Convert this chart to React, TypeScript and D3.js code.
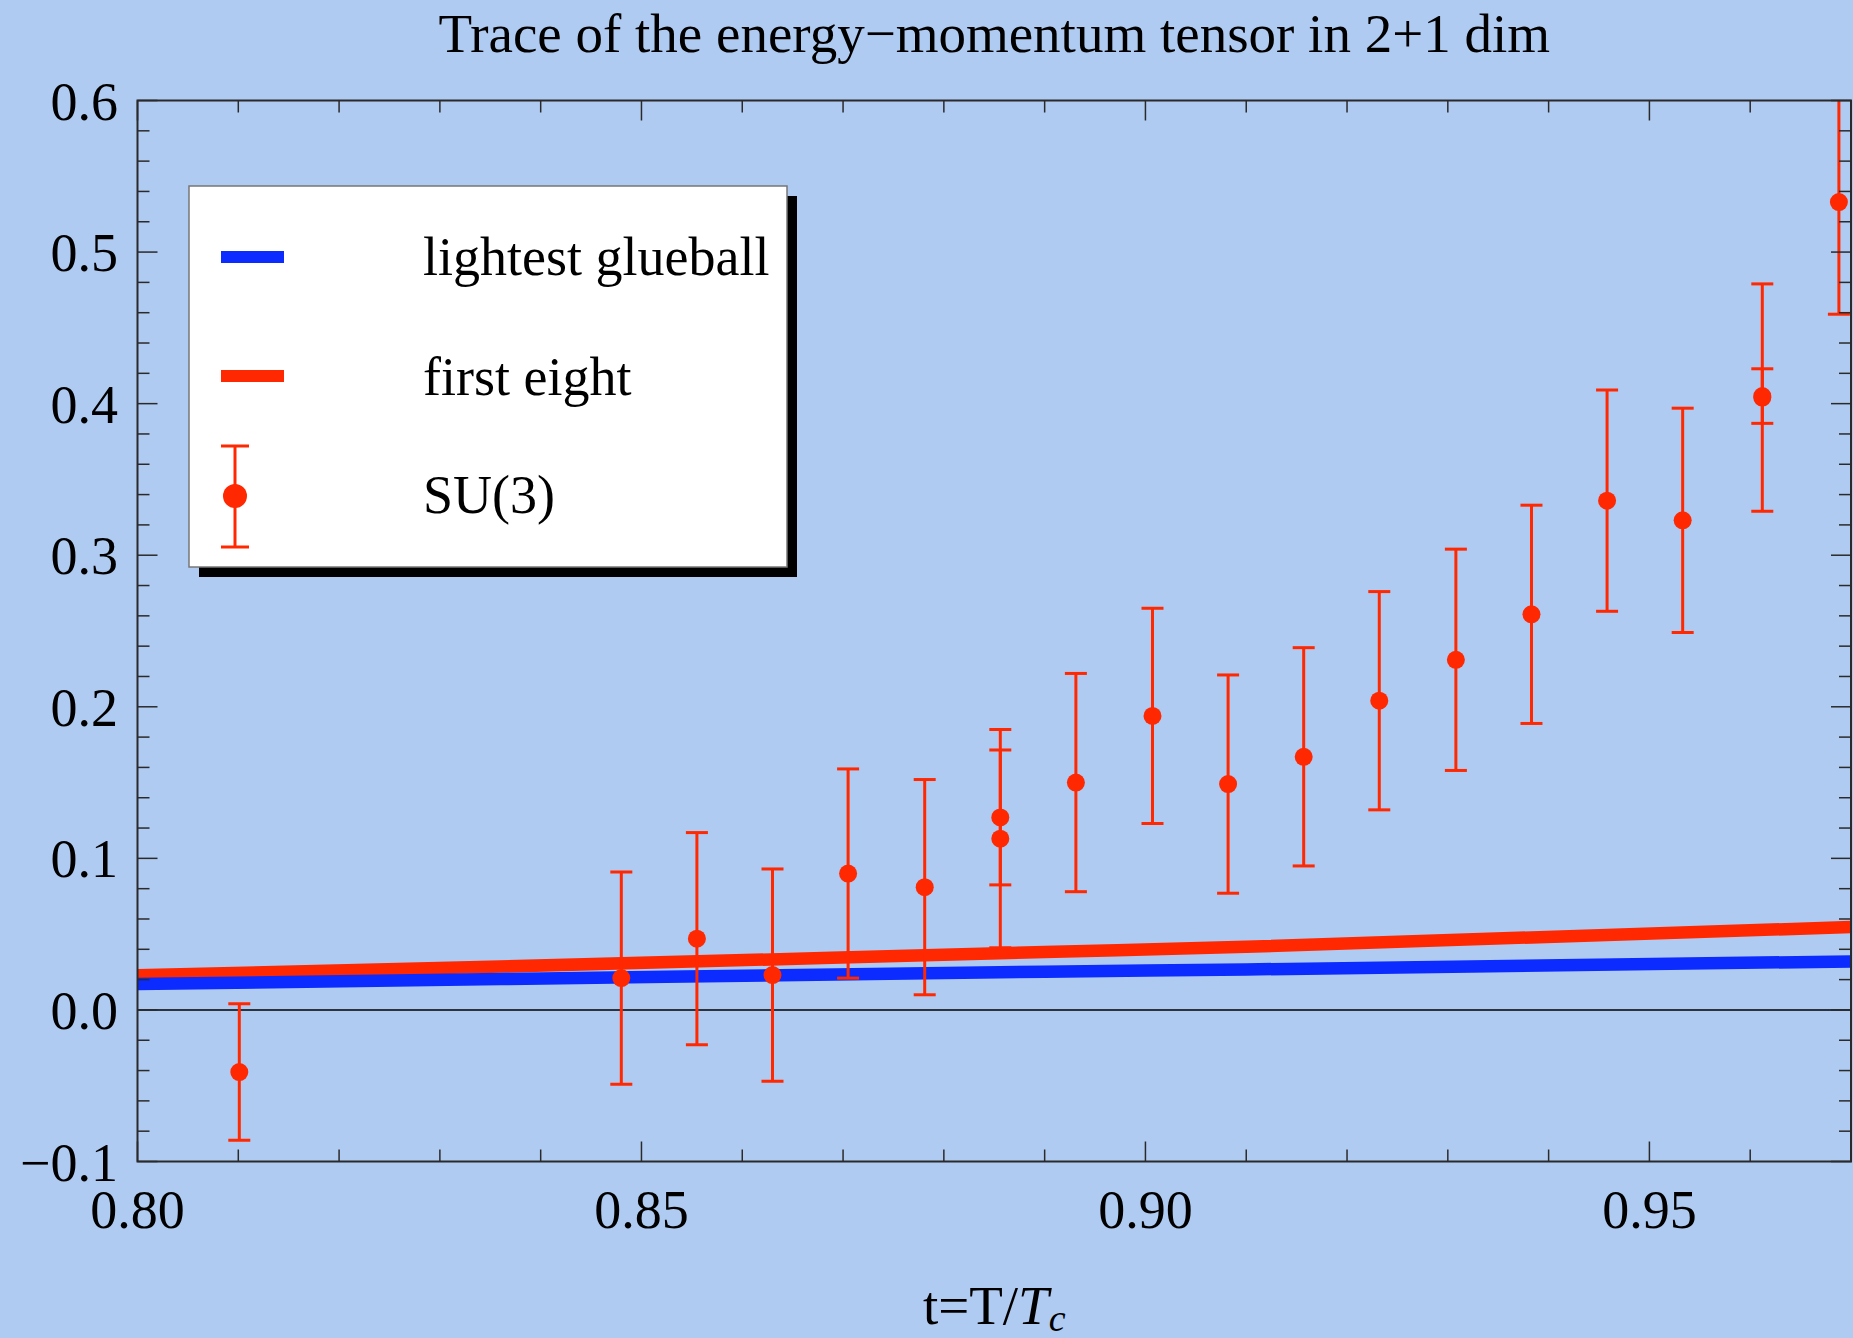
import React from "react";
import * as d3 from "d3";

// ---- data ----
const tValues = [0.8101, 0.848, 0.8555, 0.863, 0.8705, 0.8781, 0.8856, 0.8856, 0.8931, 0.9007, 0.9082, 0.9157, 0.9232, 0.9308, 0.9383, 0.9458, 0.9533, 0.9612, 0.9612, 0.9688];
const su3Values = [-0.041, 0.021, 0.047, 0.023, 0.09, 0.081, 0.127, 0.113, 0.15, 0.194, 0.149, 0.167, 0.204, 0.231, 0.261, 0.336, 0.323, 0.404, 0.405, 0.533];
const su3Errors = [0.045, 0.07, 0.07, 0.07, 0.069, 0.071, 0.0445, 0.072, 0.072, 0.071, 0.072, 0.072, 0.072, 0.073, 0.072, 0.073, 0.074, 0.075, 0.018, 0.074];

const curveT = [0.8, 0.836, 0.89, 0.91, 0.97];
const glueballValues = [0.0171, 0.0204, 0.0252, 0.0267, 0.032];
const firstEightValues = [0.0229, 0.0286, 0.0382, 0.0417, 0.0547];

const xMajorTicks = [0.8, 0.85, 0.9, 0.95];
const xTickLabels = ["0.80", "0.85", "0.90", "0.95"];
const yMajorTicks = [-0.1, 0, 0.1, 0.2, 0.3, 0.4, 0.5, 0.6];
const yTickLabels = ["\u22120.1", "0.0", "0.1", "0.2", "0.3", "0.4", "0.5", "0.6"];

const legendLabels = ["lightest glueball", "first eight", "SU(3)"];
const titleText = "Trace of the energy\u2212momentum tensor in 2+1 dim";

// ---- layout ----
const W = 1853;
const H = 1338;
const left = 137.5;
const right = 1851;
const top = 100.5;
const bottom = 1161.5;
const FONT = "'Liberation Serif', 'Times New Roman', Times, serif";
const BLUE = "#0b2bff";
const RED = "#ff2800";
const BG = "#b0cbf1";
const AXIS = "#2a2a2a";

export default function App() {
  const x = d3.scaleLinear().domain([0.8, 0.97]).range([left, right]);
  const y = d3.scaleLinear().domain([-0.1, 0.6]).range([bottom, top]);

  const xMinor = d3.range(81, 97).map((v) => v / 100).filter((v) => !xMajorTicks.some((m) => Math.abs(m - v) < 1e-9));
  const yMinor = d3.range(-5, 31).map((v) => v / 50).filter((v) => !yMajorTicks.some((m) => Math.abs(m - v) < 1e-9));

  const line = d3
    .line<number>()
    .x((_, i) => x(curveT[i]))
    .y((d) => y(d))
    .curve(d3.curveMonotoneX);

  const majorLen = 20;
  const minorLen = 12;

  const legX = 189, legY = 186, legW = 598, legH = 381;

  return (
    <svg width={W} height={H} style={{ position: "absolute", left: 0, top: 0, display: "block" }} fontFamily={FONT}>
      <defs>
        <clipPath id="plotClip">
          <rect x={left} y={top} width={right - left} height={bottom - top} />
        </clipPath>
      </defs>
      <rect x={0} y={0} width={W} height={H} fill={BG} />

      {/* title */}
      <text x={(left + right) / 2} y={52} fontSize={55} textAnchor="middle" fill="#000">{titleText}</text>

      {/* zero line */}
      <line x1={left} x2={right} y1={y(0)} y2={y(0)} stroke="#000" strokeWidth={1.5} />

      {/* curves */}
      <g clipPath="url(#plotClip)">
        <path d={line(firstEightValues) || ""} fill="none" stroke={RED} strokeWidth={12.5} />
        <path d={line(glueballValues) || ""} fill="none" stroke={BLUE} strokeWidth={12.5} />
      </g>

      {/* error bars */}
      <g clipPath="url(#plotClip)" stroke={RED} strokeWidth={3} fill={RED}>
        {tValues.map((t, i) => {
          const cx = x(t);
          const y1 = y(su3Values[i] + su3Errors[i]);
          const y2 = y(su3Values[i] - su3Errors[i]);
          return (
            <g key={i}>
              <line x1={cx} x2={cx} y1={y1} y2={y2} />
              <line x1={cx - 11} x2={cx + 11} y1={y1} y2={y1} />
              <line x1={cx - 11} x2={cx + 11} y1={y2} y2={y2} />
              <circle cx={cx} cy={y(su3Values[i])} r={9} stroke="none" />
            </g>
          );
        })}
      </g>

      {/* frame */}
      <rect x={left} y={top} width={right - left} height={bottom - top} fill="none" stroke={AXIS} strokeWidth={2} />

      {/* ticks */}
      <g stroke={AXIS} strokeWidth={1.5}>
        {xMajorTicks.map((t) => (
          <g key={"xM" + t}>
            <line x1={x(t)} x2={x(t)} y1={bottom} y2={bottom - majorLen} />
            <line x1={x(t)} x2={x(t)} y1={top} y2={top + majorLen} />
          </g>
        ))}
        {xMinor.map((t) => (
          <g key={"xm" + t}>
            <line x1={x(t)} x2={x(t)} y1={bottom} y2={bottom - minorLen} />
            <line x1={x(t)} x2={x(t)} y1={top} y2={top + minorLen} />
          </g>
        ))}
        {yMajorTicks.map((v) => (
          <g key={"yM" + v}>
            <line x1={left} x2={left + majorLen} y1={y(v)} y2={y(v)} />
            <line x1={right} x2={right - majorLen} y1={y(v)} y2={y(v)} />
          </g>
        ))}
        {yMinor.map((v) => (
          <g key={"ym" + v}>
            <line x1={left} x2={left + minorLen} y1={y(v)} y2={y(v)} />
            <line x1={right} x2={right - minorLen} y1={y(v)} y2={y(v)} />
          </g>
        ))}
      </g>

      {/* tick labels */}
      {xMajorTicks.map((t, i) => (
        <text key={"xl" + t} x={x(t)} y={1228} fontSize={54} textAnchor="middle">{xTickLabels[i]}</text>
      ))}
      {yMajorTicks.map((v, i) => (
        <text key={"yl" + v} x={118} y={y(v) + 19} fontSize={54} textAnchor="end">{yTickLabels[i]}</text>
      ))}

      {/* x axis label */}
      <text x={(left + right) / 2} y={1324} fontSize={55} textAnchor="middle">
        t=T/<tspan fontStyle="italic">T</tspan>
        <tspan fontStyle="italic" fontSize={38} dy={7}>c</tspan>
      </text>

      {/* legend */}
      <rect x={legX + 10} y={legY + 10} width={legW} height={legH} fill="#000" />
      <rect x={legX} y={legY} width={legW} height={legH} fill="#fff" stroke="#777" strokeWidth={1.5} />
      <line x1={221} x2={284} y1={257} y2={257} stroke={BLUE} strokeWidth={12} />
      <line x1={221} x2={284} y1={376} y2={376} stroke={RED} strokeWidth={12} />
      <g stroke={RED} strokeWidth={3}>
        <line x1={235} x2={235} y1={446} y2={547} />
        <line x1={221} x2={249} y1={446} y2={446} />
        <line x1={221} x2={249} y1={547} y2={547} />
      </g>
      <circle cx={235} cy={496} r={12} fill={RED} />
      <text x={423} y={275} fontSize={54}>{legendLabels[0]}</text>
      <text x={423} y={395} fontSize={54}>{legendLabels[1]}</text>
      <text x={423} y={513} fontSize={54}>{legendLabels[2]}</text>
    </svg>
  );
}
